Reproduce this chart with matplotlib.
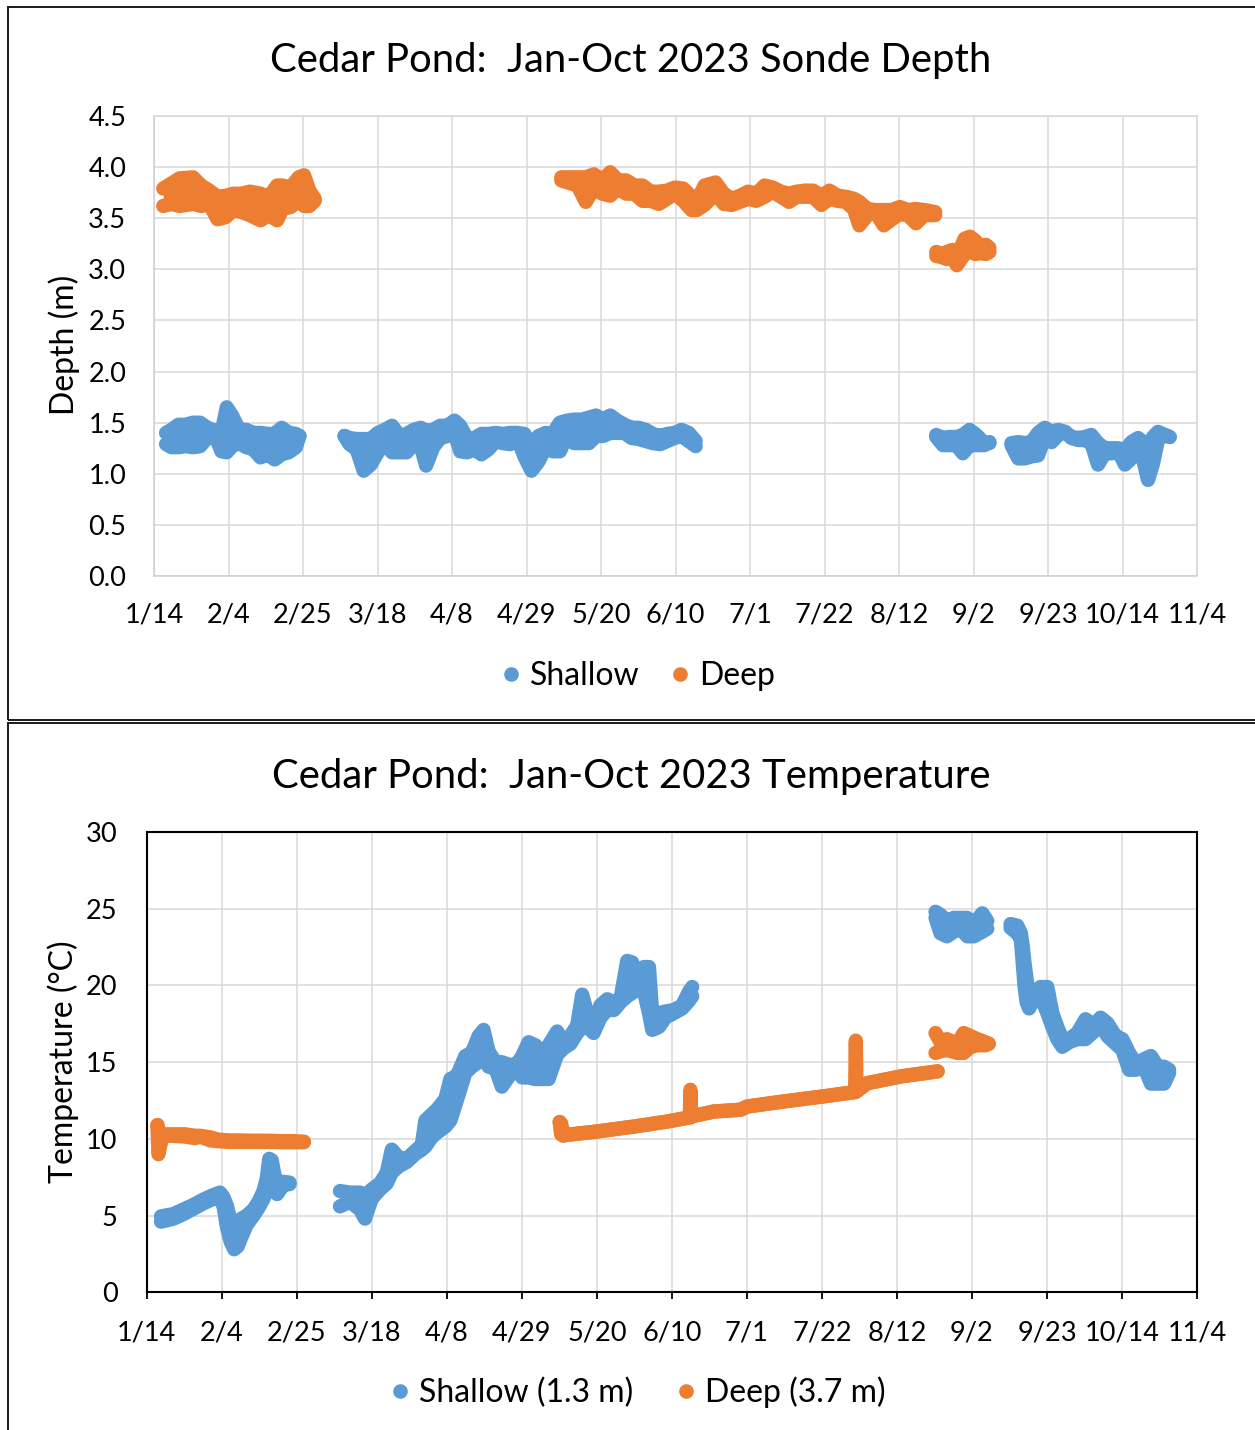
import datetime as dt

import numpy as np
import matplotlib
matplotlib.use("Agg")
import matplotlib.pyplot as plt
from matplotlib.lines import Line2D
from matplotlib.patches import Rectangle

plt.rcParams['font.family'] = ['Lato', 'DejaVu Sans']

nan = np.nan

# ---------------------------------------------------------------------------
# Data: day of year 2023, with the upper and lower envelope of the logged
# readings for each day. NaN separates deployments.
# ---------------------------------------------------------------------------
x_tick_labels = ['1/14', '2/4', '2/25', '3/18', '4/8', '4/29', '5/20', '6/10',
                 '7/1', '7/22', '8/12', '9/2', '9/23', '10/14', '11/4']
depth_ticks = [0.0, 0.5, 1.0, 1.5, 2.0, 2.5, 3.0, 3.5, 4.0, 4.5]
temp_ticks = [0, 5, 10, 15, 20, 25, 30]

# Sonde depth (m), shallow sonde
shallow_depth_day = [17.4, 18.9, 20.9, 22.9, 25.0, 27.0, 29.0, 31.5, 33.0, 34.5, 36.0, 38.0,
                     40.0, 42.0, 44.0, 46.0, 48.0, 50.0, 52.0, 54.0, 55.0, nan,
                     67.7, 69.1, 71.1, 73.1, 75.1, 77.1, 79.1, 81.1, 83.2, 85.2, 87.2, 89.2,
                     90.7, 92.7, 94.7, 96.7, 98.7, 100.3, 102.3, 104.3, 106.3, 108.3, 110.3,
                     112.3, 114.4, 116.4, 118.4, 120.4, 122.4, 124.4, 126.4, 128.4, 130.4,
                     132.4, 134.6, 136.6, 138.6, 140.6, 142.6, 144.6, 146.6, 148.6, 150.6,
                     152.6, 154.6, 156.7, 158.7, 160.7, 162.7, 164.7, 166.7, nan,
                     234.5, 236.4, 238.3, 240.2, 242.0, 243.9, 245.8, 248.1, 249.5, nan,
                     255.7, 257.6, 259.5, 261.4, 263.2, 265.1, 267.0, 268.9, 270.8, 272.6,
                     274.5, 276.4, 278.2, 280.1, 282.0, 283.9, 285.8, 287.7, 289.5, 291.4,
                     292.8, 294.2, 295.6, 297.0, 298.9, 300.3]
shallow_depth_hi = [1.40, 1.43, 1.48, 1.48, 1.50, 1.50, 1.45, 1.42, 1.40, 1.65, 1.57, 1.43,
                    1.43, 1.40, 1.40, 1.39, 1.39, 1.45, 1.40, 1.39, 1.37, nan,
                    1.37, 1.35, 1.34, 1.34, 1.34, 1.40, 1.43, 1.47, 1.37, 1.39, 1.43, 1.45,
                    1.42, 1.43, 1.47, 1.47, 1.52, 1.47, 1.34, 1.35, 1.39, 1.39, 1.40,
                    1.39, 1.40, 1.40, 1.39, 1.27, 1.37, 1.40, 1.39, 1.50, 1.52,
                    1.53, 1.53, 1.55, 1.57, 1.53, 1.57, 1.52, 1.48, 1.45, 1.45,
                    1.43, 1.39, 1.37, 1.39, 1.40, 1.43, 1.40, 1.32, nan,
                    1.38, 1.35, 1.36, 1.36, 1.38, 1.43, 1.38, 1.30, 1.30, nan,
                    1.30, 1.31, 1.30, 1.31, 1.40, 1.45, 1.41, 1.43, 1.41, 1.36,
                    1.35, 1.36, 1.38, 1.30, 1.25, 1.25, 1.25, 1.23, 1.31, 1.35,
                    1.31, 1.20, 1.36, 1.41, 1.38, 1.36]
shallow_depth_lo = [1.29, 1.26, 1.26, 1.27, 1.26, 1.27, 1.35, 1.35, 1.22, 1.21, 1.27, 1.30,
                    1.26, 1.24, 1.16, 1.19, 1.14, 1.19, 1.21, 1.26, 1.37, nan,
                    1.37, 1.29, 1.24, 1.03, 1.09, 1.21, 1.30, 1.21, 1.21, 1.21, 1.29, 1.27,
                    1.08, 1.26, 1.35, 1.37, 1.40, 1.22, 1.21, 1.24, 1.19, 1.24, 1.32,
                    1.30, 1.29, 1.35, 1.17, 1.03, 1.12, 1.26, 1.22, 1.22, 1.37,
                    1.30, 1.30, 1.30, 1.37, 1.37, 1.40, 1.40, 1.40, 1.35, 1.34,
                    1.32, 1.30, 1.29, 1.32, 1.35, 1.37, 1.32, 1.27, nan,
                    1.36, 1.28, 1.28, 1.28, 1.20, 1.28, 1.28, 1.28, 1.31, nan,
                    1.28, 1.15, 1.15, 1.17, 1.18, 1.36, 1.31, 1.38, 1.41, 1.35,
                    1.33, 1.33, 1.30, 1.09, 1.20, 1.20, 1.22, 1.09, 1.15, 1.27,
                    1.14, 0.94, 1.10, 1.33, 1.38, 1.36]

# Sonde depth (m), deep sonde
deep_depth_day = [16.6, 18.9, 21.2, 25.0, 27.3, 29.6, 31.9, 34.2, 36.4, 38.7, 41.0, 44.0,
                  46.4, 48.7, 50.2, 52.5, 54.8, 56.3, 57.8, 59.3, nan,
                  128.8, 133.4, 135.7, 138.0, 140.3, 142.6, 144.8, 147.1, 149.4, 151.7,
                  154.0, 156.3, 158.6, 160.8, 163.2, 165.5, 167.0, 169.2, 172.3, 174.6,
                  176.9, 179.2, 181.5, 183.8, 186.1, 188.4, 190.7, 193.0, 195.2, 197.5,
                  199.8, 202.1, 204.4, 206.7, 209.0, 211.3, 212.8, 215.1, 217.4, 219.7,
                  222.0, 224.2, 226.5, 228.8, 231.1, 234.2, nan,
                  234.5, 236.0, 237.5, 239.0, 240.3, 241.5, 242.5, 244.0, 245.5, 247.0,
                  248.5, 249.5]
deep_depth_hi = [3.79, 3.84, 3.89, 3.90, 3.82, 3.77, 3.71, 3.72, 3.74, 3.74, 3.76, 3.74,
                 3.71, 3.82, 3.82, 3.80, 3.90, 3.92, 3.77, 3.69, nan,
                 3.90, 3.90, 3.90, 3.93, 3.87, 3.95, 3.87, 3.87, 3.82, 3.82,
                 3.76, 3.76, 3.77, 3.80, 3.79, 3.71, 3.66, 3.82, 3.85, 3.74,
                 3.69, 3.72, 3.76, 3.74, 3.82, 3.80, 3.76, 3.74, 3.76, 3.77,
                 3.77, 3.72, 3.77, 3.72, 3.71, 3.69, 3.66, 3.59, 3.58, 3.58,
                 3.58, 3.61, 3.58, 3.59, 3.58, 3.56, nan,
                 3.17, 3.15, 3.17, 3.19, 3.15, 3.22, 3.30, 3.32, 3.28, 3.22,
                 3.24, 3.21]
deep_depth_lo = [3.62, 3.64, 3.62, 3.64, 3.62, 3.64, 3.49, 3.51, 3.58, 3.56, 3.53, 3.48,
                 3.53, 3.48, 3.59, 3.61, 3.67, 3.62, 3.62, 3.67, nan,
                 3.87, 3.82, 3.66, 3.79, 3.74, 3.72, 3.79, 3.74, 3.74, 3.67,
                 3.67, 3.64, 3.69, 3.74, 3.67, 3.58, 3.58, 3.63, 3.74, 3.64,
                 3.63, 3.66, 3.69, 3.67, 3.71, 3.76, 3.71, 3.66, 3.71, 3.71,
                 3.71, 3.63, 3.69, 3.67, 3.66, 3.59, 3.43, 3.53, 3.56, 3.43,
                 3.49, 3.54, 3.53, 3.45, 3.53, 3.53, nan,
                 3.13, 3.12, 3.10, 3.12, 3.04, 3.10, 3.15, 3.18, 3.15, 3.16,
                 3.15, 3.17]

# Water temperature (deg C), shallow sonde at 1.3 m
shallow_temp_day = [18.0, 21.5, 24.3, 27.1, 29.9, 32.2, 34.5, 35.5, 36.5, 37.5, 38.5, 39.5,
                    40.5, 42.0, 43.9, 45.3, 46.7, 47.6, 48.3, 49.0, 49.8, 50.5, 52.3, 54.0, nan,
                    68.1, 70.9, 73.7, 75.1, 77.0, 79.3, 81.2, 82.6, 84.5, 86.8, 89.1, 91.0,
                    92.0, 93.8, 95.2, 97.6, 99.0, 100.8, 103.2, 105.0, 106.9, 108.3, 109.7,
                    111.6, 113.4, 115.8, 117.7, 119.1, 120.9, 122.8, 124.7, 126.5, 128.9,
                    130.7, 132.6, 134.5, 135.9, 137.3, 139.1, 141.0, 142.9, 144.8, 146.6,
                    148.5, 149.9, 151.3, 153.2, 154.6, 155.5, 157.4, 159.2, 161.6, 163.9,
                    165.8, 166.7, nan,
                    234.8, 236.2, 238.0, 239.9, 241.8, 243.7, 245.5, 247.9, 249.3, nan,
                    255.8, 257.7, 258.7, 259.2, 259.7, 260.3, 261.0, 262.3, 264.2, 266.1,
                    267.5, 268.9, 270.3, 272.2, 274.5, 276.8, 279.2, 281.0, 282.9, 285.2,
                    287.1, 289.0, 290.9, 293.2, 295.1, 297.0, 298.8, 300.2]
shallow_temp_hi = [4.95, 5.1, 5.4, 5.7, 6.05, 6.3, 6.5, 6.2, 5.6, 4.6, 3.6, 4.0,
                   4.8, 5.0, 5.4, 5.9, 6.6, 7.4, 8.7, 8.6, 7.6, 7.2, 7.2, 7.15, nan,
                   6.6, 6.5, 6.5, 6.3, 6.7, 7.1, 7.8, 9.3, 8.8, 8.7, 9.2, 9.6,
                   11.2, 11.6, 11.9, 12.6, 13.9, 14.1, 15.4, 15.6, 16.7, 17.1, 15.7,
                   15.0, 15.0, 14.8, 14.9, 15.4, 16.3, 16.1, 15.6, 16.1, 17.0,
                   16.3, 16.7, 17.4, 19.4, 18.2, 17.4, 18.7, 19.1, 18.9, 19.1,
                   21.6, 21.5, 20.2, 21.2, 21.2, 18.2, 18.2, 18.3, 18.4, 18.7,
                   19.6, 19.9, nan,
                   24.8, 24.6, 24.2, 24.4, 24.4, 24.4, 24.0, 24.7, 24.2, nan,
                   24.0, 23.9, 23.4, 22.6, 21.5, 20.4, 19.3, 19.5, 19.9, 19.9,
                   18.2, 17.3, 16.5, 16.5, 16.9, 17.8, 17.4, 17.9, 17.55, 16.7,
                   16.5, 15.6, 14.9, 15.2, 15.4, 14.7, 14.7, 14.5]
shallow_temp_lo = [4.6, 4.8, 5.1, 5.45, 5.8, 6.05, 6.2, 5.6, 4.2, 3.3, 2.8, 3.0,
                   3.6, 4.4, 5.0, 5.5, 6.1, 6.6, 6.9, 7.3, 6.8, 6.4, 7.0, 7.05, nan,
                   5.6, 5.9, 5.4, 4.8, 6.1, 6.7, 7.1, 7.8, 8.2, 8.5, 9.0, 9.3,
                   9.5, 10.1, 10.4, 10.8, 11.2, 12.5, 14.3, 14.7, 15.0, 15.8, 14.7,
                   14.6, 13.4, 14.2, 14.5, 14.0, 14.0, 13.9, 13.9, 13.9, 15.5,
                   15.9, 16.2, 16.9, 17.3, 17.3, 16.9, 17.9, 18.4, 18.4, 18.9,
                   19.3, 19.5, 19.8, 19.6, 18.2, 17.1, 17.3, 17.9, 18.2, 18.5,
                   19.0, 19.3, nan,
                   24.4, 23.4, 23.2, 23.5, 23.7, 23.2, 23.2, 23.5, 23.7, nan,
                   23.75, 23.4, 23.0, 21.5, 20.0, 18.9, 18.5, 19.1, 19.3, 18.2,
                   17.3, 16.5, 16.0, 16.3, 16.5, 16.5, 17.0, 17.5, 16.7, 16.2,
                   15.8, 14.5, 14.5, 14.7, 13.6, 13.6, 13.6, 14.3]

# Water temperature (deg C), deep sonde at 3.7 m
deep_temp_day = [17.0, 17.3, 17.7, 18.5, 21.0, 24.7, 27.5, 29.0, 31.8, 34.0, 37.0, 40.0,
                 44.0, 48.0, 52.0, 55.0, 58.0, nan,
                 129.6, 130.0, 130.6, 131.6, 140.0, 150.3, 159.7, 166.0, 166.2, 166.4,
                 172.7, 180.2, 182.1, 192.4, 203.1, 212.3, 212.5, 212.7, 215.7, 225.1,
                 235.4, nan,
                 234.8, 236.2, 238.0, 240.9, 242.7, 244.6, 246.5, 248.8, 249.7]
deep_temp_hi = [10.9, 10.5, 10.3, 10.3, 10.3, 10.3, 10.2, 10.2, 10.1, 9.95, 9.9, 9.9,
                9.88, 9.88, 9.85, 9.85, 9.82, nan,
                11.1, 11.0, 10.35, 10.26, 10.48, 10.8, 11.13, 11.4, 13.2, 11.46,
                11.78, 11.9, 12.11, 12.44, 12.76, 13.05, 16.4, 13.1, 13.63, 14.07,
                14.4, nan,
                16.9, 16.3, 16.5, 16.2, 16.9, 16.7, 16.5, 16.3, 16.2]
deep_temp_lo = [10.9, 9.0, 9.5, 10.2, 10.2, 10.15, 10.05, 10.15, 9.9, 9.85, 9.8, 9.8,
                9.8, 9.8, 9.78, 9.78, 9.78, nan,
                11.1, 10.3, 10.2, 10.26, 10.48, 10.8, 11.13, 11.4, 11.4, 11.46,
                11.78, 11.9, 12.11, 12.44, 12.76, 13.05, 13.09, 13.1, 13.63, 14.07,
                14.4, nan,
                15.6, 15.7, 15.8, 15.6, 15.6, 16.0, 16.1, 16.1, 16.2]

# ---------------------------------------------------------------------------
BLUE = '#5B9BD5'
ORANGE = '#ED7D31'
GRID = '#D9D9D9'
DOT_LW = 10.3  # pt, width of the dense run of markers

W, H = 1255, 1430


def day_of_year(label):
    m, d = (int(v) for v in label.split('/'))
    return dt.date(2023, m, d).timetuple().tm_yday


x_tick_days = [day_of_year(s) for s in x_tick_labels]


def draw_band(ax, day, hi, lo, color):
    day, hi, lo = (np.asarray(v, dtype=float) for v in (day, hi, lo))
    gaps = np.flatnonzero(np.isnan(day))
    for seg in np.split(np.arange(day.size), gaps):
        seg = seg[~np.isnan(day[seg])]
        if seg.size == 0:
            continue
        ax.fill_between(day[seg], lo[seg], hi[seg], color=color, lw=0)
        for y in (hi[seg], lo[seg]):
            ax.plot(day[seg], y, color=color, lw=DOT_LW,
                    solid_capstyle='round', solid_joinstyle='round')


def px_rect(x0, y0, x1, y1):
    """Axes rectangle from pixel edges (origin top-left)."""
    return [x0 / W, 1 - y1 / H, (x1 - x0) / W, (y1 - y0) / H]


fig = plt.figure(figsize=(W / 100, H / 100), dpi=100)
fig.patch.set_facecolor('white')

# chart-area borders
for (x0, y0, x1, y1) in [(7.5, 7, 1275, 720), (7.5, 723, 1275, 1460)]:
    fig.add_artist(Rectangle((x0 / W, 1 - y1 / H), (x1 - x0) / W, (y1 - y0) / H,
                             transform=fig.transFigure, fill=False,
                             edgecolor='#1a1a1a', lw=1.4, clip_on=False))

TICK_FS = 19.5
LABEL_FS = 23
TITLE_FS = 28.8

# ---------------- Depth chart ----------------
ax1 = fig.add_axes(px_rect(154, 116, 1197, 576))
draw_band(ax1, shallow_depth_day, shallow_depth_hi, shallow_depth_lo, BLUE)
draw_band(ax1, deep_depth_day, deep_depth_hi, deep_depth_lo, ORANGE)
ax1.set_xlim(x_tick_days[0], x_tick_days[-1])
ax1.set_ylim(depth_ticks[0], depth_ticks[-1])
ax1.set_xticks(x_tick_days)
ax1.set_xticklabels(x_tick_labels)
ax1.set_yticks(depth_ticks)
ax1.set_yticklabels([f'{v:.1f}' for v in depth_ticks])
ax1.grid(True, color=GRID, lw=1.1)
ax1.set_axisbelow(True)
for side, sp in ax1.spines.items():
    sp.set_color('#CFCFCF' if side in ('left', 'bottom') else GRID)
    sp.set_linewidth(1.1)
ax1.tick_params(axis='both', length=0, labelsize=TICK_FS, colors='black')
ax1.tick_params(axis='x', pad=19)
ax1.tick_params(axis='y', pad=20)

fig.text(631 / W, 1 - 72 / H, 'Cedar Pond:  Jan-Oct 2023 Sonde Depth',
         ha='center', va='baseline', fontsize=TITLE_FS)
fig.text(64 / W, 1 - 345 / H, 'Depth (m)', rotation=90,
         ha='center', va='center', fontsize=LABEL_FS)

h1 = [Line2D([], [], ls='none', marker='o', ms=9.5, color=BLUE, mec=BLUE),
      Line2D([], [], ls='none', marker='o', ms=9.5, color=ORANGE, mec=ORANGE)]
fig.legend(h1, ['Shallow', 'Deep'], loc='center', bbox_to_anchor=(638 / W, 1 - 676 / H),
           ncol=2, frameon=False, fontsize=LABEL_FS, handlelength=0.6,
           handletextpad=0.3, columnspacing=0.95)

# ---------------- Temperature chart ----------------
ax2 = fig.add_axes(px_rect(146.7, 832, 1197, 1292.3))
draw_band(ax2, shallow_temp_day, shallow_temp_hi, shallow_temp_lo, BLUE)
draw_band(ax2, deep_temp_day, deep_temp_hi, deep_temp_lo, ORANGE)
ax2.set_xlim(x_tick_days[0], x_tick_days[-1])
ax2.set_ylim(temp_ticks[0], temp_ticks[-1])
ax2.set_xticks(x_tick_days)
ax2.set_xticklabels(x_tick_labels)
ax2.set_yticks(temp_ticks)
ax2.grid(True, color=GRID, lw=1.1)
ax2.set_axisbelow(True)
for sp in ax2.spines.values():
    sp.set_color('black')
    sp.set_linewidth(1.5)
ax2.tick_params(axis='y', length=0, labelsize=TICK_FS, pad=21)
ax2.tick_params(axis='x', direction='out', length=5, width=1.3, labelsize=TICK_FS, pad=15)

fig.text(631 / W, 1 - 788 / H, 'Cedar Pond:  Jan-Oct 2023 Temperature',
         ha='center', va='baseline', fontsize=TITLE_FS)
fig.text(63 / W, 1 - 1062 / H, 'Temperature (°C)', rotation=90,
         ha='center', va='center', fontsize=LABEL_FS)

fig.legend(h1, ['Shallow (1.3 m)', 'Deep (3.7 m)'], loc='center',
           bbox_to_anchor=(638 / W, 1 - 1392 / H), ncol=2, frameon=False,
           fontsize=LABEL_FS, handlelength=0.6, handletextpad=0.3, columnspacing=1.35)

fig.savefig('out.png', dpi=100)
